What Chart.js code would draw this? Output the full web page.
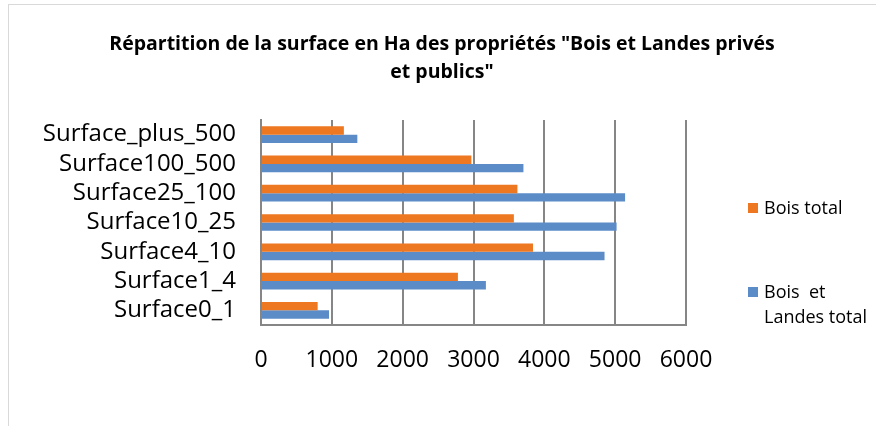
<!DOCTYPE html>
<html>
<head>
<meta charset="utf-8">
<script src="https://cdn.jsdelivr.net/npm/chart.js@4/dist/chart.umd.min.js"></script>
<style>
  html, body { margin: 0; padding: 0; background: #fff; }
  #wrap { position: relative; width: 876px; height: 426px; overflow: hidden; }
  #frame { position: absolute; left: 8px; top: 4px; width: 900px; height: 500px;
           border-top: 1px solid #d9d9d9; border-left: 1px solid #d9d9d9; pointer-events: none; }
  canvas { position: absolute; left: 0; top: 0; }
  .leg { position: absolute; font-family: "Open Sans", sans-serif; font-size: 18px; color: #000; line-height: 25px; }
  .sw { position: absolute; width: 10px; height: 10px; }
</style>
</head>
<body>
<div id="wrap">
  <canvas id="c" width="876" height="426"></canvas>
  <div id="frame"></div>
  <div class="sw" style="left:748px;top:203px;background:#EE7722"></div>
  <div class="leg" style="left:764px;top:195px;">Bois total</div>
  <div class="sw" style="left:748px;top:287px;background:#5B8CC8"></div>
  <div class="leg" style="left:764px;top:279px;">Bois&nbsp;&nbsp;et<br>Landes total</div>
</div>
<script>
const categories = ["Surface_plus_500", "Surface100_500", "Surface25_100", "Surface10_25", "Surface4_10", "Surface1_4", "Surface0_1"];
const boisTotal = [1170, 2970, 3620, 3570, 3840, 2780, 800];
const boisLandesTotal = [1360, 3705, 5140, 5020, 4850, 3175, 960];
const xTicks = [0, 1000, 2000, 3000, 4000, 5000, 6000];
const titleLines = ['Répartition de la surface en Ha des propriétés "Bois et Landes privés', 'et publics"'];

const gridColor = '#868686';
const font = '"Open Sans", sans-serif';

new Chart(document.getElementById('c'), {
  type: 'bar',
  data: {
    labels: categories,
    datasets: [
      { label: 'Bois total', data: boisTotal, backgroundColor: '#EE7722',
        barPercentage: 1.0, categoryPercentage: 0.57 },
      { label: 'Bois  et Landes total', data: boisLandesTotal, backgroundColor: '#5B8CC8',
        barPercentage: 1.0, categoryPercentage: 0.57 }
    ]
  },
  options: {
    indexAxis: 'y',
    responsive: false,
    animation: false,
    layout: { padding: { left: 8, right: 0, top: 0, bottom: 0 } },
    plugins: {
      legend: { display: false },
      tooltip: { enabled: false },
      title: {
        display: true,
        text: titleLines,
        color: '#000',
        font: { family: font, size: 19.5, weight: 'bold', lineHeight: 1.436 },
        padding: { top: 30, bottom: 34 }
      }
    },
    scales: {
      x: {
        min: 0, max: 6000,
        afterBuildTicks: (s) => { s.ticks = xTicks.map(v => ({ value: v })); },
        grid: { color: gridColor, lineWidth: 2, drawTicks: false },
        border: { display: true, color: gridColor, width: 2 },
        ticks: { color: '#000', padding: 22, font: { family: font, size: 23 },
                 callback: (v) => String(v) },
        afterFit: (s) => { s.height = 101; }
      },
      y: {
        grid: { display: false, drawTicks: false },
        border: { display: true, color: gridColor, width: 2 },
        ticks: { color: '#000', padding: 25, autoSkip: false, font: { family: font, size: 24 } },
        afterFit: (s) => { s.width = 253; }
      },
      yRight: {
        type: 'category',
        position: 'right',
        display: true,
        grid: { display: false, drawTicks: false },
        border: { display: false },
        ticks: { display: false },
        afterFit: (s) => { s.width = 190; }
      }
    }
  }
});
</script>
</body>
</html>
